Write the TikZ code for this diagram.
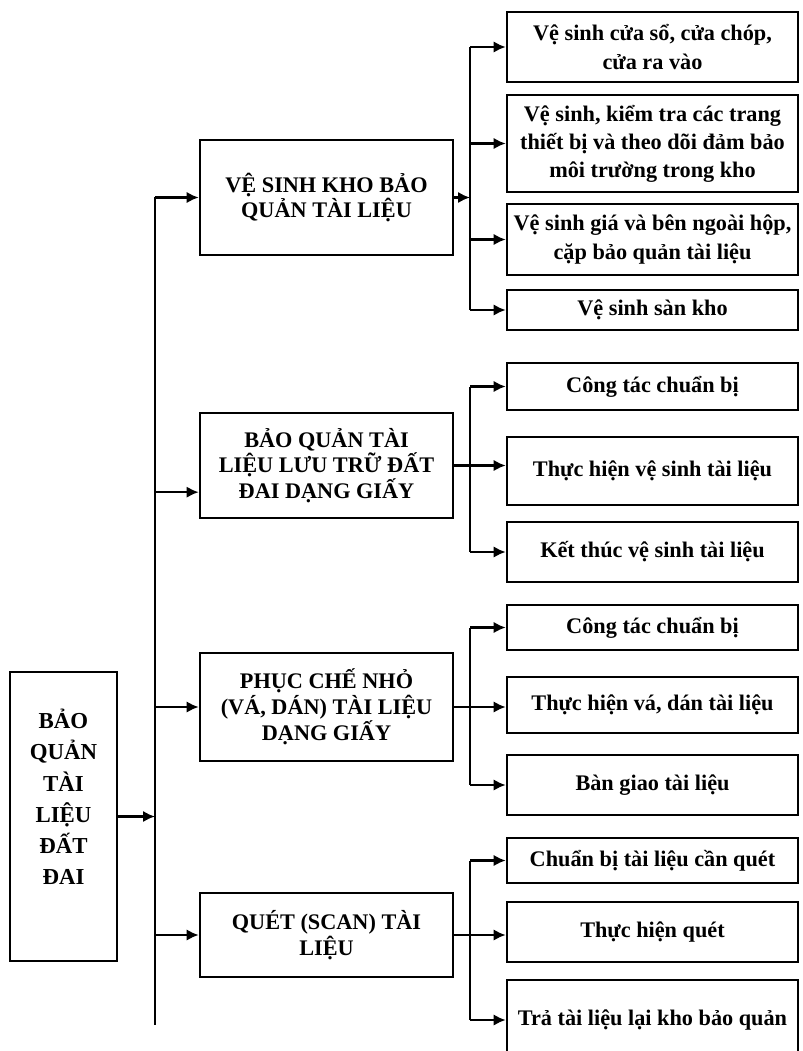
\documentclass[tikz,border=0pt]{standalone}
\usepackage{fontspec}
\setmainfont{Liberation Serif}
\usetikzlibrary{arrows.meta}

\begin{document}
\begin{tikzpicture}[
    mainbox/.style={draw, line width=2.2pt, minimum width=3.21cm, minimum height=8.67cm, align=center, font=\bfseries\fontsize{19.5}{26.5}\selectfont},
    topic/.style={draw, line width=2.2pt, minimum width=7.59cm, align=center, inner sep=2pt, font=\bfseries\fontsize{19}{22}\selectfont},
    task/.style={draw, line width=2.2pt, minimum width=8.73cm, align=center, inner sep=1pt, font=\bfseries\fontsize{19}{24}\selectfont},
    line/.style={draw, line width=1.9pt},
    link/.style={draw, line width=1.9pt, -{Latex[length=3.6mm, width=3.4mm]}}
]
    \useasboundingbox (0,0) rectangle (24.06,-31.53);
    \clip (0,0) rectangle (24.06,-31.53);

    \node[mainbox] (goc) at (1.905,-24.495) {BẢO\\QUẢN\\TÀI\\LIỆU\\ĐẤT\\ĐAI\\[0.25cm]};

    \node[topic, minimum height=3.45cm] (vesinh) at (9.795,-5.925) {VỆ SINH KHO BẢO\\QUẢN TÀI LIỆU};
    \node[topic, minimum height=3.15cm] (baoquan) at (9.795,-13.965) {BẢO QUẢN TÀI\\LIỆU LƯU TRỮ ĐẤT\\ĐAI DẠNG GIẤY};
    \node[topic, minimum height=3.24cm] (phuche) at (9.795,-21.21) {PHỤC CHẾ NHỎ\\(VÁ, DÁN) TÀI LIỆU\\DẠNG GIẤY};
    \node[topic, minimum height=2.52cm] (quet) at (9.795,-28.05) {QUÉT (SCAN) TÀI\\LIỆU};

    \node[task, minimum height=2.1cm] (vs1) at (19.575,-1.41) {Vệ sinh cửa sổ, cửa chóp,\\cửa ra vào};
    \node[task, minimum height=2.91cm] (vs2) at (19.575,-4.305) {Vệ sinh, kiểm tra các trang\\thiết bị và theo dõi đảm bảo\\môi trường trong kho};
    \node[task, minimum height=2.13cm] (vs3) at (19.575,-7.185) {Vệ sinh giá và bên ngoài hộp,\\cặp bảo quản tài liệu};
    \node[task, minimum height=1.2cm] (vs4) at (19.575,-9.3) {Vệ sinh sàn kho};

    \node[task, minimum height=1.41cm] (bq1) at (19.575,-11.595) {Công tác chuẩn bị};
    \node[task, minimum height=2.04cm] (bq2) at (19.575,-14.13) {Thực hiện vệ sinh tài liệu};
    \node[task, minimum height=1.8cm] (bq3) at (19.575,-16.56) {Kết thúc vệ sinh tài liệu};

    \node[task, minimum height=1.35cm] (pc1) at (19.575,-18.825) {Công tác chuẩn bị};
    \node[task, minimum height=1.68cm] (pc2) at (19.575,-21.15) {Thực hiện vá, dán tài liệu};
    \node[task, minimum height=1.8cm] (pc3) at (19.575,-23.55) {Bàn giao tài liệu};

    \node[task, minimum height=1.35cm] (q1) at (19.575,-25.815) {Chuẩn bị tài liệu cần quét};
    \node[task, minimum height=1.8cm] (q2) at (19.575,-27.96) {Thực hiện quét};
    \node[task, minimum height=2.4cm] (q3) at (19.575,-30.6) {Trả tài liệu lại kho bảo quản};

    \coordinate (ttop) at (4.65,-5.925);
    \coordinate (tbot) at (4.65,-30.75);
    \coordinate (nhanh) at (14.1,0);

    \draw[line] (ttop) -- (tbot);
    \draw[link] (goc.east) -- (goc.east -| ttop);
    \draw[link] (ttop) -- (vesinh.west);
    \draw[link] ([yshift=-0.8cm]baoquan.west -| ttop) -- ([yshift=-0.8cm]baoquan.west);
    \draw[link] (phuche.west -| ttop) -- (phuche.west);
    \draw[link] (quet.west -| ttop) -- (quet.west);

    \draw[line] (vs1.west -| nhanh) -- (vs4.west -| nhanh);
    \draw[line] (bq1.west -| nhanh) -- (bq3.west -| nhanh);
    \draw[line] (pc1.west -| nhanh) -- (pc3.west -| nhanh);
    \draw[line] (q1.west -| nhanh) -- (q3.west -| nhanh);

    \draw[link] (vesinh.east) -- (vesinh.east -| nhanh);
    \draw[link] (baoquan.east) -- (baoquan.east -| bq2.west);
    \draw[link] (phuche.east) -- (phuche.east -| pc2.west);
    \draw[link] (quet.east) -- (quet.east -| q2.west);

    \foreach \t in {vs1,vs2,vs3,vs4,bq1,bq3,pc1,pc3,q1,q3}
        \draw[link] (\t.west -| nhanh) -- (\t.west);
\end{tikzpicture}
\end{document}
